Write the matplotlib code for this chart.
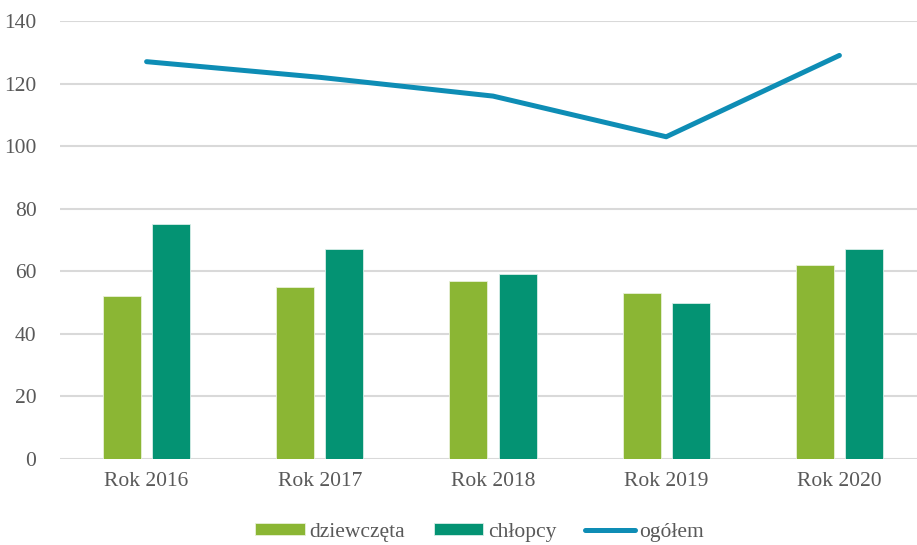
import matplotlib.pyplot as plt
import numpy as np

# dane
lata = ["Rok 2016", "Rok 2017", "Rok 2018", "Rok 2019", "Rok 2020"]
dziewczeta = [52, 55, 57, 53, 62]
chlopcy = [75, 67, 59, 50, 67]
ogolem = [127, 122, 116, 103, 129]

plt.rcParams['font.family'] = ['Liberation Serif', 'DejaVu Serif']

fig = plt.figure(figsize=(9.17, 5.45), dpi=100)
ax = fig.add_axes([60/917, 86/545, 866/917, 438/545])

x = np.arange(len(lata))
w = 0.22
b1 = ax.bar(x - 0.142, dziewczeta, w, color="#8BB634", edgecolor="#E8F0D8", linewidth=0.6, label="dziewczęta", zorder=3)
b2 = ax.bar(x + 0.142, chlopcy, w, color="#049373", edgecolor="#D8EEE8", linewidth=0.6, label="chłopcy", zorder=3)
l1, = ax.plot(x, ogolem, color="#0E8DB5", linewidth=3.6, solid_capstyle="round", label="ogółem", zorder=4)

ax.set_xlim(-0.5, 4.5)
ax.set_ylim(0, 140)
ax.set_yticks(range(0, 141, 20))
ax.set_xticks(x)
ax.set_xticklabels(lata)
ax.grid(axis="y", color="#D9D9D9", linewidth=1.5, zorder=0)
for s in ["top", "right", "left", "bottom"]:
    ax.spines[s].set_visible(False)
ax.tick_params(axis="both", length=0, labelsize=15.5, colors="#595959", pad=9)
ax.tick_params(axis="y", pad=17)

leg = fig.legend([b1, b2, l1], ["dziewczęta", "chłopcy", "ogółem"], loc="lower center",
                 bbox_to_anchor=(0.523, -0.03), ncol=3, frameon=False,
                 fontsize=15.5, handlelength=2.3, handleheight=0.5, columnspacing=1.35, handletextpad=0.2)
for t in leg.get_texts():
    t.set_color("#595959")

plt.savefig("out.png", dpi=100)
